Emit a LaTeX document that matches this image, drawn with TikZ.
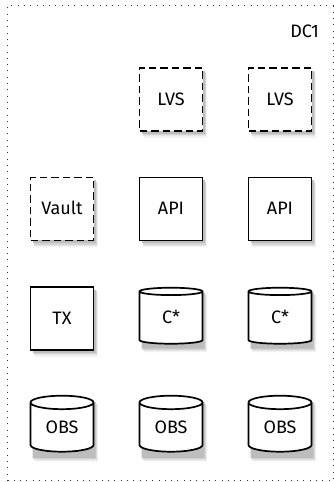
\documentclass[tikz,border=0pt]{standalone}
\usepackage{fontspec}
\setmainfont{Fira Sans}
\usetikzlibrary{shapes.geometric}
\tikzset{
  x=1pt, y=1pt,
  unit/.style={draw=black, line width=1.7pt, fill=white,
      font=\fontsize{18}{21}\selectfont, inner sep=0pt,
      text height=13pt, text depth=1pt},
  box/.style={unit, rectangle, minimum width=63pt, minimum height=63pt},
  dbox/.style={box, dashed, dash pattern=on 7.5pt off 4pt},
  drum/.style={unit, cylinder, shape border rotate=90, shape aspect=0.41,
      minimum width=63pt, minimum height=56pt},
  shadowcopy/.style={draw=none, solid},
  frame/.style={draw=black!80, line width=1pt, dash pattern=on 1pt off 5.3pt},
  dclabel/.style={font=\fontsize{18}{21}\selectfont, anchor=east, inner sep=0pt},
}
% a unit with a soft, graded drop shadow: style, name, x, y, text
\newcommand\placeunit[5]{%
  \node[#1, shadowcopy, fill=black!5,  xshift=4.6pt, yshift=-6.6pt] (#2-s4) at (#3,#4) {};
  \node[#1, shadowcopy, fill=black!10, xshift=3.8pt, yshift=-5.4pt] (#2-s3) at (#3,#4) {};
  \node[#1, shadowcopy, fill=black!17, xshift=3pt,   yshift=-4.2pt] (#2-s2) at (#3,#4) {};
  \node[#1, shadowcopy, fill=black!26, xshift=2.2pt, yshift=-3pt]   (#2-s1) at (#3,#4) {};
  \node[#1] (#2) at (#3,#4) {#5};}
\begin{document}
\begin{tikzpicture}
  \useasboundingbox (0,0) rectangle (334,482);
  % data-centre boundary
  \draw[frame] (7.5,1) -- (7.5,476) -- (333,476) -- (333,1) -- cycle;
  \node[dclabel] (dc) at (319,451) {DC1};

  % row 1: load balancers
  \placeunit{dbox}{lvs1}{171}{382.5}{LVS}
  \placeunit{dbox}{lvs2}{280}{382.5}{LVS}
  % row 2: vault and API servers
  \placeunit{dbox}{vault}{62}{273}{Vault}
  \placeunit{box}{api1}{171}{273}{API}
  \placeunit{box}{api2}{280}{273}{API}
  % row 3: transactions and Cassandra
  \placeunit{box}{tx}{62}{163.5}{TX}
  \placeunit{drum}{cas1}{171}{164}{C*}
  \placeunit{drum}{cas2}{280}{164}{C*}
  % row 4: object storage
  \placeunit{drum}{obs1}{62}{54.5}{OBS}
  \placeunit{drum}{obs2}{171}{54.5}{OBS}
  \placeunit{drum}{obs3}{280}{54.5}{OBS}
\end{tikzpicture}
\end{document}
